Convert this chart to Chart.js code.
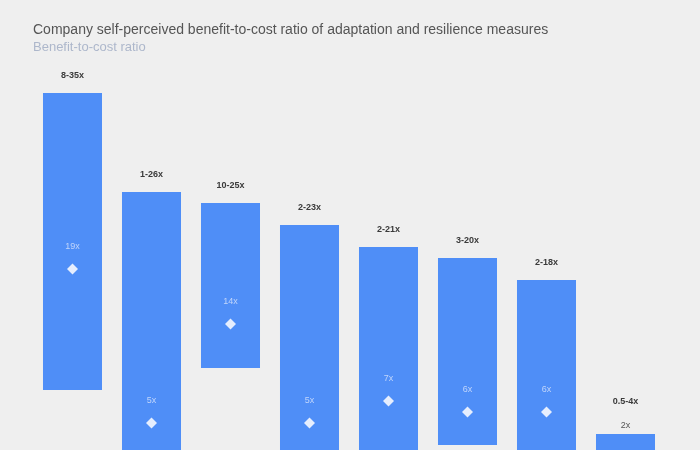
<!DOCTYPE html>
<html>
<head>
<meta charset="utf-8">
<script src="https://cdn.jsdelivr.net/npm/chart.js@4/dist/chart.umd.min.js"></script>
<style>
  html, body { margin: 0; padding: 0; background: #efefef; overflow: hidden; }
  #wrap { width: 700px; height: 450px; }
</style>
</head>
<body>
<div id="wrap"><canvas id="c" width="700" height="450"></canvas></div>
<script>
// ---- data ----
const lows    = [8, 1, 10, 2, 2, 3, 2, 0.5];
const highs   = [35, 26, 25, 23, 21, 20, 18, 4];
const medians = [19, 5, 14, 5, 7, 6, 6, 2];
const categories = lows.map((lo, i) => lo + '-' + highs[i] + 'x');
const medianLabels = medians.map(m => m + 'x');
const titleText = 'Company self-perceived benefit-to-cost ratio of adaptation and resilience measures';
const subtitleText = 'Benefit-to-cost ratio';

const barColor = '#4f8ef7';

const labelPlugin = {
  id: 'rangeLabels',
  afterDatasetsDraw(chart) {
    const ctx = chart.ctx;
    const barMeta = chart.getDatasetMeta(0);
    const ptMeta = chart.getDatasetMeta(1);
    ctx.save();
    ctx.textAlign = 'center';
    ctx.textBaseline = 'middle';
    barMeta.data.forEach((bar, i) => {
      const top = Math.min(bar.y, bar.base);
      const pt = ptMeta.data[i];
      let medY = pt.y - 22;
      let rangeY = top - 17;
      let inside = true;
      if (medY < top + 10) {
        inside = false;
        medY = top - 8;
        rangeY = top - 32;
      }
      ctx.font = 'bold 9px "Liberation Sans", Arial, sans-serif';
      ctx.fillStyle = '#3a3a3a';
      ctx.fillText(categories[i], bar.x, rangeY);
      ctx.font = '9px "Liberation Sans", Arial, sans-serif';
      ctx.fillStyle = inside ? '#c0d5fb' : '#555555';
      ctx.fillText(medianLabels[i], bar.x, medY);
    });
    ctx.restore();
  }
};

new Chart(document.getElementById('c'), {
  type: 'bar',
  data: {
    labels: categories,
    datasets: [
      {
        type: 'bar',
        data: lows.map((lo, i) => [lo, highs[i]]),
        backgroundColor: barColor,
        borderWidth: 0,
        barPercentage: 0.747,
        categoryPercentage: 1.0,
        order: 2
      },
      {
        type: 'line',
        data: medians,
        showLine: false,
        clip: false,
        pointStyle: 'rectRot',
        pointRadius: 5.5,
        pointHoverRadius: 5.5,
        pointBackgroundColor: '#e6eefe',
        pointBorderWidth: 0,
        order: 1
      }
    ]
  },
  options: {
    responsive: false,
    animation: false,
    layout: { autoPadding: false, padding: { left: 33, right: 35, top: 0, bottom: 0 } },
    scales: {
      x: { display: false },
      y: { display: false, min: 28 / 11, max: 418 / 11 }
    },
    plugins: {
      legend: { display: false },
      tooltip: { enabled: false },
      title: {
        display: true,
        text: titleText,
        align: 'start',
        color: '#555555',
        font: { family: '"Liberation Sans", Arial, sans-serif', size: 14, weight: 'normal', lineHeight: 1.2 },
        padding: { top: 22, bottom: 0 }
      },
      subtitle: {
        display: true,
        text: subtitleText,
        align: 'start',
        color: '#adb7cb',
        font: { family: '"Liberation Sans", Arial, sans-serif', size: 13, weight: 'normal', lineHeight: 1.2 },
        padding: { top: 1, bottom: 4.6 }
      }
    }
  },
  plugins: [labelPlugin]
});
</script>
</body>
</html>
